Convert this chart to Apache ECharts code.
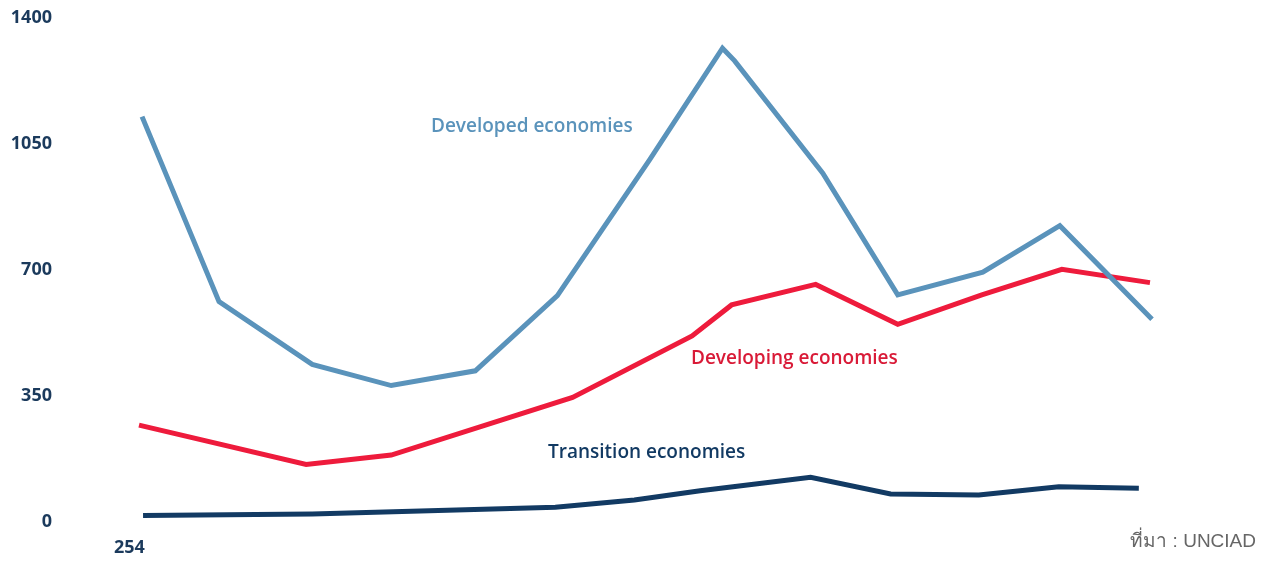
<!DOCTYPE html>
<html>
<head>
<meta charset="utf-8">
<script src="https://cdn.jsdelivr.net/npm/echarts@6/dist/echarts.min.js"></script>
<style>
html,body{margin:0;padding:0;background:#fff;}
#chart{width:1269px;height:561px;}
</style>
</head>
<body>
<div id="chart"></div>
<script>
// x positions are period offsets (0 = first period, 10 = last)
var developedX = [0.03, 0.79, 1.71, 2.49, 3.32, 4.13, 5.04, 5.76, 5.88, 6.75, 7.49, 8.33, 9.09, 10.0];
var developedY = [1126, 612, 438, 379, 420, 629, 1006, 1316, 1281, 969, 631, 694, 823, 563];
var developingX = [0.0, 1.65, 2.49, 4.28, 5.46, 5.85, 6.68, 7.49, 8.32, 9.11, 9.98];
var developingY = [269, 160, 186, 346, 517, 603, 660, 549, 631, 702, 665];
var transitionX = [0.04, 1.71, 4.11, 4.89, 5.54, 6.63, 7.42, 8.29, 9.08, 9.87];
var transitionY = [18, 22, 41, 61, 87, 124, 78, 75, 98, 94];
var yTicks = [0, 350, 700, 1050, 1400];
var seriesNames = ['Developed economies', 'Developing economies', 'Transition economies'];
var firstPeriodLabel = '254';
var sourceText = 'ที่มา : UNCIAD';

function pairs(xs, ys) { return xs.map(function (x, i) { return [x, ys[i]]; }); }

var colors = ['#5a93bb', '#ee1b3c', '#123a63'];
var chart = echarts.init(document.getElementById('chart'));
chart.setOption({
  animation: false,
  grid: { left: 139, right: 117, top: 18, bottom: 39 },
  xAxis: {
    type: 'value', min: 0, max: 10,
    axisLine: { show: false }, axisTick: { show: false },
    splitLine: { show: false }, axisLabel: { show: false }
  },
  yAxis: {
    type: 'value', min: yTicks[0], max: yTicks[yTicks.length - 1], interval: 350,
    axisLine: { show: false }, axisTick: { show: false }, splitLine: { show: false },
    axisLabel: {
      margin: 87, color: '#1b3a5c', fontWeight: 'bold', fontSize: 18,
      fontFamily: 'Open Sans, sans-serif',
      formatter: function (v) { return String(v); }
    }
  },
  series: [
    { name: seriesNames[0], type: 'line', data: pairs(developedX, developedY) },
    { name: seriesNames[1], type: 'line', data: pairs(developingX, developingY) },
    { name: seriesNames[2], type: 'line', data: pairs(transitionX, transitionY) }
  ].map(function (s, i) {
    s.showSymbol = false; s.symbol = 'none';
    s.lineStyle = { width: 5, color: colors[i], join: 'miter' };
    s.itemStyle = { color: colors[i] };
    s.z = 3 - i;
    return s;
  }),
  graphic: [
    { type: 'text', left: 431, top: 117, style: { text: seriesNames[0], fill: colors[0], font: '600 19px "Open Sans", sans-serif' } },
    { type: 'text', left: 691, top: 349, style: { text: seriesNames[1], fill: '#d91a37', font: '600 19px "Open Sans", sans-serif' } },
    { type: 'text', left: 548, top: 443, style: { text: seriesNames[2], fill: colors[2], font: '600 19px "Open Sans", sans-serif' } },
    { type: 'text', left: 114, top: 539, style: { text: firstPeriodLabel, fill: '#1b3a5c', font: 'bold 18px "Open Sans", sans-serif' } },
    { type: 'text', right: 13, top: 532, style: { text: sourceText, fill: '#666666', font: '19px sans-serif' } }
  ]
});
</script>
</body>
</html>
